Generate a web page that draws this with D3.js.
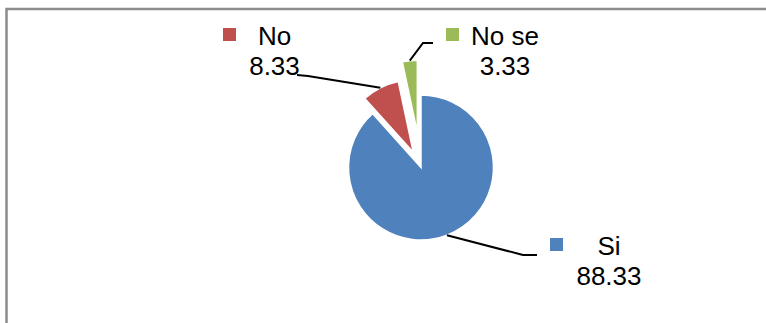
<!DOCTYPE html>
<html>
<head>
<meta charset="utf-8">
<script src="https://cdn.jsdelivr.net/npm/d3@7"></script>
<style>
  html, body { margin: 0; padding: 0; background: #fff; }
  svg text { font-family: "Liberation Sans", Arial, sans-serif; font-size: 26px; fill: #000; }
</style>
</head>
<body>
<div id="main"></div>
<script>
const categories = ['Si', 'No', 'No se'];
const values = [88.33, 8.33, 3.33];
const valueLabels = ['88.33', '8.33', '3.33'];

const colors = ['#4F81BD', '#C0504D', '#9BBB59'];
const explode = [0, 17, 35]; // px pulled out from centre

// label placement (centre of text, baseline of first line, leader elbow + end)
const labelLayout = [
  { cx: 609, y: 255, keyX: 550, elbow: [523, 255], end: [537, 255] },
  { cx: 274.5, y: 45, keyX: 223, elbow: [308, 76], end: [297, 75] },
  { cx: 505, y: 45, keyX: 446, elbow: [423, 43], end: [433, 43] }
];

const width = 766, height = 323;
const cx = 421, cy = 167.5, radius = 72.5;

const svg = d3.select('div#main').append('svg')
  .attr('width', width).attr('height', height);

// chart frame (right/bottom edges run off the picture)
svg.append('rect')
  .attr('x', 6.5).attr('y', 9)
  .attr('width', 820).attr('height', 400)
  .attr('fill', 'none').attr('stroke', '#8c8c8c').attr('stroke-width', 2.5);

const pie = d3.pie().sort(null).value(d => d);
const arcs = pie(values);

const arc = d3.arc().innerRadius(0).outerRadius(radius);

const pieGroup = svg.append('g').attr('transform', `translate(${cx}, ${cy})`);

const shift = (d, i) => {
  const mid = (d.startAngle + d.endAngle) / 2;
  return [Math.sin(mid) * explode[i], -Math.cos(mid) * explode[i]];
};

pieGroup.selectAll('path.slice')
  .data(arcs)
  .join('path')
  .attr('class', 'slice')
  .attr('d', arc)
  .attr('transform', (d, i) => `translate(${shift(d, i)})`)
  .attr('fill', (d, i) => colors[i])
  .attr('stroke', '#fff')
  .attr('stroke-width', 1.5);

// leader lines: from the middle of each slice's outer arc to the label
const line = d3.line();
svg.selectAll('path.leader')
  .data(arcs)
  .join('path')
  .attr('class', 'leader')
  .attr('d', (d, i) => {
    const mid = (d.startAngle + d.endAngle) / 2;
    const [sx, sy] = shift(d, i);
    const p0 = [cx + sx + Math.sin(mid) * radius, cy + sy - Math.cos(mid) * radius];
    return line([p0, labelLayout[i].elbow, labelLayout[i].end]);
  })
  .attr('fill', 'none')
  .attr('stroke', '#000')
  .attr('stroke-width', 2);

const labels = svg.selectAll('g.label')
  .data(arcs)
  .join('g')
  .attr('class', 'label');

labels.append('rect')
  .attr('x', (d, i) => labelLayout[i].keyX)
  .attr('y', (d, i) => labelLayout[i].y - 17)
  .attr('width', 13).attr('height', 13)
  .attr('fill', (d, i) => colors[i]);

labels.append('text')
  .attr('x', (d, i) => labelLayout[i].cx)
  .attr('y', (d, i) => labelLayout[i].y)
  .attr('text-anchor', 'middle')
  .text((d, i) => categories[i]);

labels.append('text')
  .attr('x', (d, i) => labelLayout[i].cx)
  .attr('y', (d, i) => labelLayout[i].y + 30)
  .attr('text-anchor', 'middle')
  .text((d, i) => valueLabels[i]);
</script>
</body>
</html>
